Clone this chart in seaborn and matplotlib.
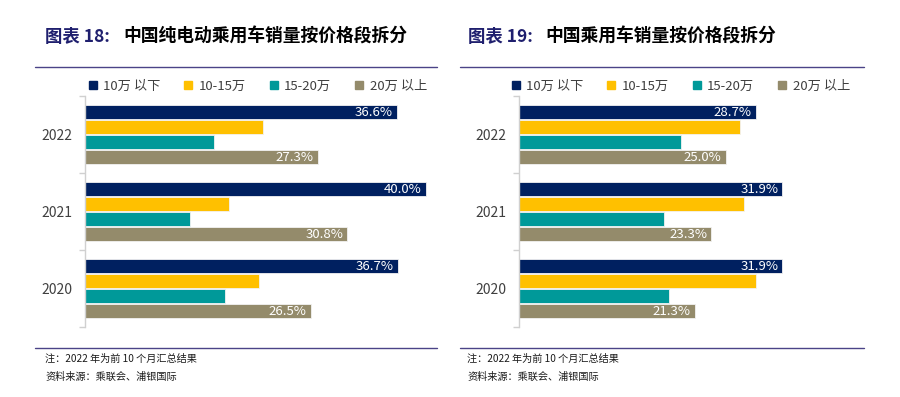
import matplotlib
matplotlib.use("Agg")
import matplotlib.pyplot as plt
from matplotlib.lines import Line2D
import seaborn as sns
import pandas as pd

# ---- data ----
years = ["2022", "2021", "2020"]
segments = ["10万 以下", "10-15万", "15-20万", "20万 以上"]

# Chart 18: BEV passenger car sales by price segment (%)
bev_under10 = [36.6, 40.0, 36.7]
bev_10_15 = [20.9, 16.9, 20.4]
bev_15_20 = [15.1, 12.3, 16.4]
bev_over20 = [27.3, 30.8, 26.5]

# Chart 19: all passenger car sales by price segment (%)
pv_under10 = [28.7, 31.9, 31.9]
pv_10_15 = [26.7, 27.2, 28.7]
pv_15_20 = [19.6, 17.6, 18.1]
pv_over20 = [25.0, 23.3, 21.3]

labeled_segments = ["10万 以下", "20万 以上"]

title_prefix_18 = "图表 18:"
title_main_18 = "中国纯电动乘用车销量按价格段拆分"
title_prefix_19 = "图表 19:"
title_main_19 = "中国乘用车销量按价格段拆分"
note_text = "注：2022 年为前 10 个月汇总结果"
source_text = "资料来源：乘联会、浦银国际"

colors = ["#002060", "#FFC000", "#009999", "#948B6B"]
navy_title = "#1F1F6E"
rule_color = "#4B4387"


def make_df(s1, s2, s3, s4):
    rows = []
    for seg, vals in zip(segments, [s1, s2, s3, s4]):
        for y, v in zip(years, vals):
            rows.append({"year": y, "segment": seg, "value": v})
    return pd.DataFrame(rows)


df18 = make_df(bev_under10, bev_10_15, bev_15_20, bev_over20)
df19 = make_df(pv_under10, pv_10_15, pv_15_20, pv_over20)

sns.set_theme(style="white")
plt.rcParams["font.family"] = ["Noto Sans CJK SC", "DejaVu Sans"]

fig = plt.figure(figsize=(9, 3.97), dpi=100)

ax_specs = [
    (df18, [85 / 900, 0.177, 42 * 8.52 / 900, 0.581]),
    (df19, [519 / 900, 0.177, 42 * 8.26 / 900, 0.581]),
]

axes = []
for df, pos in ax_specs:
    ax = fig.add_axes(pos)
    sns.barplot(data=df, x="value", y="year", hue="segment", order=years,
                hue_order=segments, palette=colors, saturation=1, orient="h",
                width=0.78, gap=0.1, edgecolor="#F2F2F2", linewidth=0.6,
                legend=False, ax=ax)
    ax.set_xlim(0, 42)
    ax.set_ylim(2.5, -0.5)
    ax.set_xlabel("")
    ax.set_ylabel("")
    ax.set_xticks([])
    for s in ["top", "right", "bottom"]:
        ax.spines[s].set_visible(False)
    ax.spines["left"].set_color("#D0D0D0")
    ax.spines["left"].set_linewidth(1.0)
    ax.tick_params(axis="y", which="major", length=0, pad=9,
                   labelsize=10, labelcolor="#404040")
    ax.set_yticks([-0.5, 0.5, 1.5, 2.5], minor=True)
    ax.tick_params(axis="y", which="minor", length=4, width=1.0,
                   color="#D0D0D0", left=True)
    # value labels on first and last segments
    for cont, seg in zip(ax.containers, segments):
        if seg not in labeled_segments:
            continue
        for patch in cont.patches:
            w = patch.get_width()
            yc = patch.get_y() + patch.get_height() / 2
            ax.annotate(f"{w:.1f}%", xy=(w, yc), xytext=(-3, -0.5),
                        textcoords="offset points", ha="right", va="center",
                        color="white", fontsize=9.5)
    axes.append(ax)

# legends
handles = [Line2D([0], [0], marker="s", linestyle="none", markersize=5.5,
                  markerfacecolor=c, markeredgecolor=c) for c in colors]
for x0 in [88 / 900, 511 / 900]:
    fig.legend(handles, segments, loc="center left",
               bbox_to_anchor=(x0, 1 - 86.5 / 397), ncol=4, frameon=False,
               fontsize=9.5, handlelength=0.7, handletextpad=0.45,
               columnspacing=1.75, borderaxespad=0, borderpad=0,
               labelcolor="#404040")

# titles
ty = 1 - 37 / 397
fig.text(45 / 900, ty, title_prefix_18, color=navy_title, fontsize=12.5,
         fontweight="bold", va="center", ha="left")
fig.text(123 / 900, ty, title_main_18, color="black", fontsize=12.8,
         fontweight="bold", va="center", ha="left")
fig.text(468 / 900, ty, title_prefix_19, color=navy_title, fontsize=12.5,
         fontweight="bold", va="center", ha="left")
fig.text(545 / 900, ty, title_main_19, color="black", fontsize=12.8,
         fontweight="bold", va="center", ha="left")

# rules
for (xa, xb) in [(35, 437), (460, 864)]:
    for yy in [66.7, 348]:
        fig.add_artist(Line2D([xa / 900, xb / 900], [1 - yy / 397, 1 - yy / 397],
                              color=rule_color, linewidth=1.0,
                              transform=fig.transFigure))

# notes
for xn in [45, 467]:
    fig.text(xn / 900, 1 - 359 / 397, note_text, fontsize=7.3, color="#1a1a1a",
             va="center", ha="left")
    fig.text(xn / 900, 1 - 377 / 397, source_text, fontsize=7.3, color="#1a1a1a",
             va="center", ha="left")

fig.savefig("out.png", dpi=100)
